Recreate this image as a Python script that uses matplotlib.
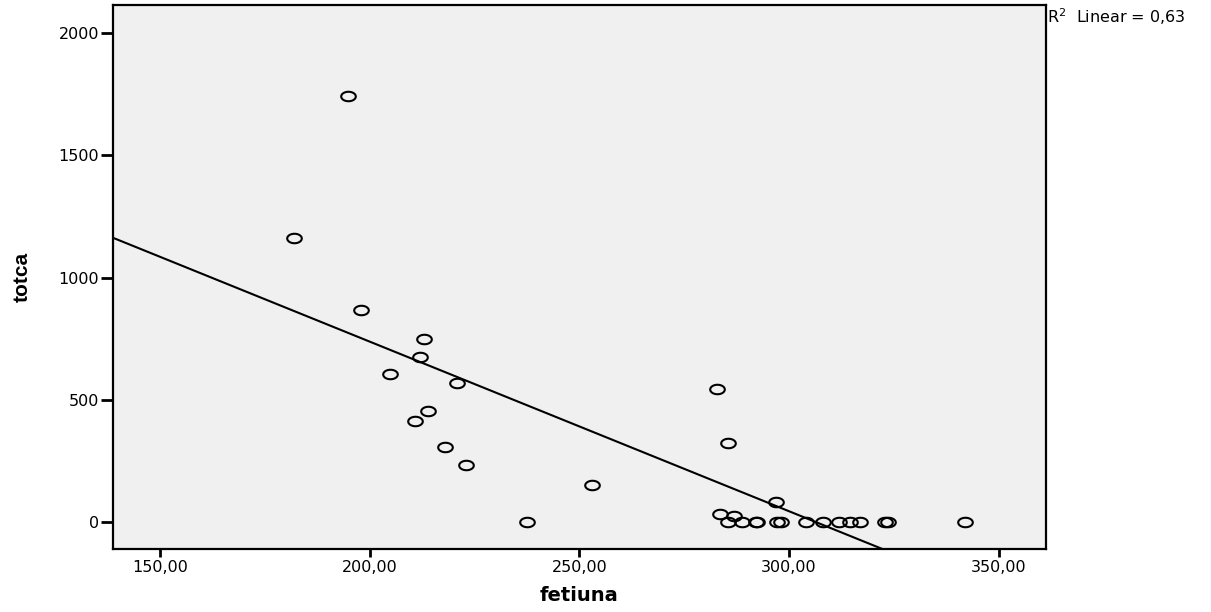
import numpy as np
import matplotlib
matplotlib.use("Agg")
import matplotlib.pyplot as plt
from matplotlib.path import Path
from matplotlib.ticker import FuncFormatter

plt.rcParams['font.family'] = ['DejaVu Sans']

# fetiuna (x) and totca (y) values
fetiuna = [194.8, 182.0, 197.9, 213.0, 212.0, 204.9, 220.8, 213.9, 210.8,
           218.0, 223.0, 237.5, 253.0, 282.8, 285.5, 296.9, 283.6, 286.9,
           285.5, 288.8, 292.1, 292.4, 297.1, 298.1, 304.1, 308.1, 311.9,
           314.6, 316.9, 322.9, 323.6, 342.0]
totca = [1743, 1162, 867, 749, 675, 606, 569, 454, 413,
         307, 233, 0, 151, 544, 323, 82, 33, 25,
         0, 0, 0, 0, 0, 0, 0, 0, 0,
         0, 0, 0, 0, 0]

x_ticks = [150, 200, 250, 300, 350]
y_ticks = [0, 500, 1000, 1500, 2000]
r2_label = "R$^2$  Linear = 0,63"

# ellipse marker (wider than tall, like the SPSS output)
t = np.linspace(0, 2 * np.pi, 60)
ellipse = Path(np.column_stack([np.cos(t), 0.65 * np.sin(t)]), closed=True)

fig = plt.figure(figsize=(12.11, 6.12), dpi=100)
ax = fig.add_axes([0.0933, 0.1029, 0.7702, 0.8889])
ax.set_facecolor('#f0f0f0')

ax.plot(fetiuna, totca, linestyle='none', marker=ellipse, markersize=10.5,
        markerfacecolor='none', markeredgecolor='black', markeredgewidth=1.5)

xlim = (138.8, 361.2)
slope, intercept = np.polyfit(fetiuna, totca, 1)
xs = np.array(xlim)
ax.plot(xs, intercept + slope * xs, color='black', linewidth=1.5)

ax.set_xlim(*xlim)
ax.set_ylim(-110.5, 2114.6)
ax.set_xticks(x_ticks)
ax.set_yticks(y_ticks)
ax.xaxis.set_major_formatter(FuncFormatter(lambda v, p: "{:.2f}".format(v).replace('.', ',')))
ax.yaxis.set_major_formatter(FuncFormatter(lambda v, p: "{:d}".format(int(v))))

for s in ax.spines.values():
    s.set_linewidth(1.6)
    s.set_color('black')
ax.tick_params(axis='x', length=6, width=2, pad=2, labelsize=11.5)
ax.tick_params(axis='y', length=9, width=2, pad=1, labelsize=11.5)

ax.set_xlabel('fetiuna', fontsize=14, fontweight='bold', labelpad=8)
ax.set_ylabel('totca', fontsize=15, fontweight='bold', labelpad=19,
              family='Liberation Sans')

fig.text(0.8645, 0.972, r2_label, fontsize=11.5, va='center', ha='left')

fig.savefig('out.png', dpi=100)
